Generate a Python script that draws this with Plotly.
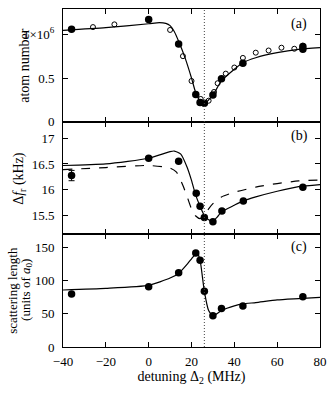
import plotly.graph_objects as go
from plotly.subplots import make_subplots

# ---- data (panel a: atom number, in units of 1e6) ----
a_fill_x = [-36, 0, 14, 22, 24, 26, 30, 34, 44, 72, 72]
a_fill_y = [1.057, 1.17, 0.89, 0.31, 0.22, 0.21, 0.305, 0.49, 0.67, 0.86, 0.83]
a_open_x = [-26, -16, 10, 16, 20, 24.3, 28, 30.5, 32.2, 36, 40, 44, 50, 56, 62, 68, 72]
a_open_y = [1.083, 1.114, 1.05, 0.75, 0.466, 0.26, 0.24, 0.34, 0.44, 0.55, 0.62, 0.73, 0.79, 0.815, 0.847, 0.835, 0.87]
a_fit_x = [-40, -20, 0, 5, 8, 10, 12, 14, 17, 20, 22, 24, 26, 28, 30, 34, 40, 44, 50, 60, 70, 80]
a_fit_y = [1.046, 1.076, 1.121, 1.133, 1.125, 1.10, 1.03, 0.92, 0.73, 0.50, 0.33, 0.237, 0.20, 0.25, 0.305, 0.466, 0.60, 0.675, 0.732, 0.79, 0.828, 0.847]

# ---- panel b: frequency shift (kHz) ----
b_x = [-36, 0, 14, 22.2, 24, 26, 30, 34.2, 44.2, 72]
b_y = [16.275, 16.61, 16.55, 15.93, 15.68, 15.46, 15.38, 15.59, 15.78, 16.05]
b_err = [0.1, 0, 0, 0, 0, 0, 0, 0, 0, 0]
b_fit_x = [-40, -20, 0, 10, 12, 15, 18, 20, 22, 24, 26, 28, 30, 32, 34, 40, 44, 50, 60, 70, 80]
b_fit_y = [16.47, 16.5, 16.61, 16.74, 16.75, 16.69, 16.43, 16.18, 15.89, 15.68, 15.5, 15.42, 15.39, 15.47, 15.57, 15.70, 15.78, 15.86, 15.97, 16.06, 16.1]
b_dash_x = [-40, -20, 0, 10, 13, 16, 18, 20, 22, 24, 26, 28, 30, 34, 40, 50, 60, 70, 80]
b_dash_y = [16.39, 16.43, 16.47, 16.42, 16.34, 16.08, 15.86, 15.63, 15.49, 15.44, 15.5, 15.63, 15.73, 15.86, 15.95, 16.05, 16.12, 16.17, 16.19]

# ---- panel c: scattering length (a0) ----
c_x = [-36, 0, 14, 22, 24, 26, 30, 34, 44, 72]
c_y = [80, 91, 112, 142, 131, 84, 47, 58, 62, 76]
c_fit_x = [-40, -20, 0, 10, 14, 18, 20, 22, 22.6, 24, 26, 28, 30, 34, 40, 44, 50, 60, 70, 80]
c_fit_y = [86, 88.5, 93, 104, 111, 125, 133, 141, 143, 131, 84, 55, 47, 55, 62, 65, 67, 71, 73, 75]

resonance_x = 26

x_ticks = [-40, -20, 0, 20, 40, 60, 80]
a_tickvals = [0, 0.5, 1.0]
a_ticktext = ["0", "0.5", "1×10<sup>6</sup>"]
b_tickvals = [15.5, 16, 16.5, 17]
c_tickvals = [0, 50, 100, 150]

FONT = "Liberation Serif"

fig = make_subplots(rows=3, cols=1, shared_xaxes=True, vertical_spacing=0)

# panel a
fig.add_trace(go.Scatter(x=a_fit_x, y=a_fit_y, mode="lines", line=dict(color="black", width=1.2, shape="spline", smoothing=0.6)), row=1, col=1)
fig.add_trace(go.Scatter(x=a_open_x, y=a_open_y, mode="markers",
                         marker=dict(symbol="circle-open", size=5, color="black", line=dict(width=1))), row=1, col=1)
fig.add_trace(go.Scatter(x=a_fill_x, y=a_fill_y, mode="markers",
                         marker=dict(symbol="circle", size=7.5, color="black")), row=1, col=1)

# panel b
fig.add_trace(go.Scatter(x=b_dash_x, y=b_dash_y, mode="lines", line=dict(color="black", width=1.2, dash="dash", shape="spline", smoothing=0.6)), row=2, col=1)
fig.add_trace(go.Scatter(x=b_fit_x, y=b_fit_y, mode="lines", line=dict(color="black", width=1.2, shape="spline", smoothing=0.6)), row=2, col=1)
fig.add_trace(go.Scatter(x=b_x, y=b_y, mode="markers",
                         error_y=dict(type="data", array=b_err, color="black", thickness=1, width=3),
                         marker=dict(symbol="circle", size=7.5, color="black")), row=2, col=1)

# panel c
fig.add_trace(go.Scatter(x=c_fit_x, y=c_fit_y, mode="lines", line=dict(color="black", width=1.2, shape="spline", smoothing=0.5)), row=3, col=1)
fig.add_trace(go.Scatter(x=c_x, y=c_y, mode="markers",
                         marker=dict(symbol="circle", size=7.5, color="black")), row=3, col=1)

axis_common = dict(showline=True, linecolor="black", linewidth=1, mirror="ticks",
                   ticks="inside", ticklen=5, tickcolor="black", showgrid=False, zeroline=False,
                   tickfont=dict(family=FONT, size=13, color="black"))

for r in (1, 2, 3):
    fig.update_xaxes(range=[-40, 80], tickvals=x_ticks, row=r, col=1, **axis_common)
fig.update_xaxes(showticklabels=False, row=1, col=1)
fig.update_xaxes(showticklabels=False, row=2, col=1)
fig.update_xaxes(row=3, col=1, ticklabelstandoff=2,
                 title=dict(text="detuning Δ<sub>2</sub> (MHz)", font=dict(family=FONT, size=14, color="black"), standoff=2))

for r in (1, 2, 3):
    fig.update_yaxes(row=r, col=1, ticklabelstandoff=5, **axis_common)
fig.update_yaxes(range=[0, 1.29], tickvals=a_tickvals, ticktext=a_ticktext, row=1, col=1)
fig.update_yaxes(range=[15.135, 17.32], tickvals=b_tickvals, row=2, col=1)
fig.update_yaxes(range=[0, 170], tickvals=c_tickvals, row=3, col=1)

# resonance line
fig.add_shape(type="line", xref="x3", yref="paper", x0=resonance_x, x1=resonance_x, y0=0, y1=1,
              line=dict(color="#444444", width=1, dash="1px,2px"))

def ylab(text, x, y, size=14):
    fig.add_annotation(text=text, xref="paper", yref="paper", x=x, y=y, textangle=-90,
                       showarrow=False, font=dict(family=FONT, size=size, color="black"),
                       xanchor="center", yanchor="middle")

ylab("atom number", -0.153, 0.834)
ylab("Δ<i>f</i><sub>r</sub> (kHz)", -0.172, 0.5)
ylab("scattering length", -0.196, 0.168, 13)
ylab("(units of <i>a</i><sub>0</sub>)", -0.145, 0.168, 13)

for lab, yy in (("(a)", 0.957), ("(b)", 0.625), ("(c)", 0.296)):
    fig.add_annotation(text=lab, xref="paper", yref="paper", x=0.92, y=yy, showarrow=False,
                       font=dict(family=FONT, size=14, color="black"), xanchor="center", yanchor="middle")

fig.update_layout(width=335, height=395, margin=dict(l=63, r=10, t=8, b=48),
                  paper_bgcolor="white", plot_bgcolor="white", showlegend=False,
                  font=dict(family=FONT, size=14, color="black"))

# remove the default page margin so the figure sits at the window's corner
fig.write_html("out.html", config={"displayModeBar": False},
               post_script="document.body.style.margin='0px';")
